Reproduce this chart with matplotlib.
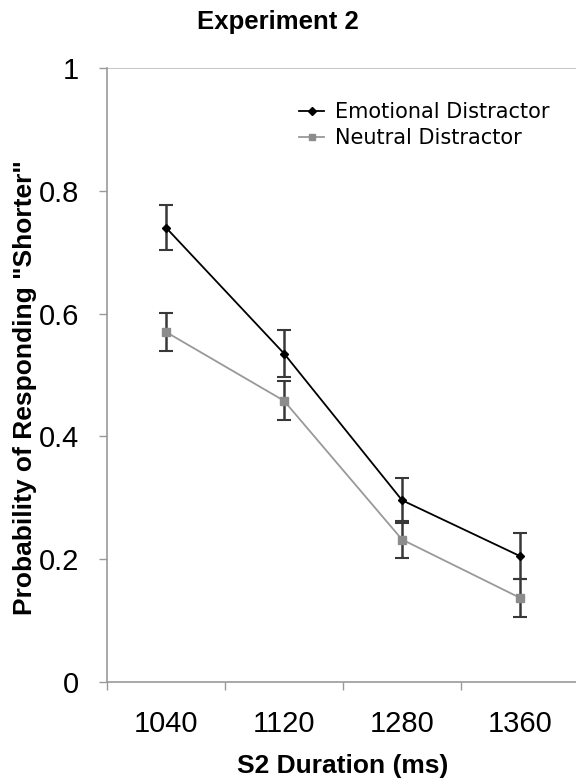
import matplotlib
matplotlib.use('Agg')
import matplotlib.pyplot as plt
from matplotlib.lines import Line2D

# S2 duration conditions
durations = ['1040', '1120', '1280', '1360']

emotional = [0.740, 0.535, 0.296, 0.205]
emotional_err = [0.037, 0.038, 0.037, 0.037]

neutral = [0.570, 0.458, 0.232, 0.137]
neutral_err = [0.031, 0.032, 0.030, 0.031]

fig = plt.figure(figsize=(5.76, 7.81), dpi=100)
ax = fig.add_axes([0.1858, 0.1268, 0.8195, 0.7861])

x = list(range(len(durations)))

ax.errorbar(x, neutral, yerr=neutral_err, color='#999999', marker='s', markersize=6,
            markerfacecolor='#8c8c8c', markeredgecolor='#8c8c8c', linewidth=1.3,
            ecolor='#383838', elinewidth=1.8, capsize=5, capthick=1.5, zorder=2)
ax.errorbar(x, emotional, yerr=emotional_err, color='black', marker='D', markersize=4.5,
            linewidth=1.3, ecolor='#383838', elinewidth=1.8, capsize=5, capthick=1.5,
            zorder=3)

ax.set_xlim(-0.5, 3.5)
ax.set_ylim(0, 1)
ax.set_yticks([0, 0.2, 0.4, 0.6, 0.8, 1.0])
ax.set_yticklabels(['0', '0.2', '0.4', '0.6', '0.8', '1'])
ax.set_xticks(x)
ax.set_xticklabels(durations)
ax.set_xticks([-0.5, 0.5, 1.5, 2.5], minor=True)
ax.tick_params(axis='x', which='major', length=0, pad=20)
ax.tick_params(axis='x', which='minor', length=6, color='#999999', width=1)
ax.tick_params(axis='y', length=6, color='#999999', width=1, pad=14)
for lab in ax.get_xticklabels() + ax.get_yticklabels():
    lab.set_fontfamily('Liberation Sans')
    lab.set_fontsize(21)

ax.axhline(1.0, color='#bbbbbb', linewidth=1.2, zorder=0)
ax.spines['top'].set_visible(False)
ax.spines['right'].set_visible(False)
ax.spines['left'].set_color('#999999')
ax.spines['bottom'].set_color('#999999')
ax.spines['left'].set_linewidth(1.2)
ax.spines['bottom'].set_linewidth(1.2)

handles = [
    Line2D([], [], color='black', marker='D', markersize=4, linewidth=1.3),
    Line2D([], [], color='#999999', marker='s', markersize=5, markerfacecolor='#8c8c8c',
           markeredgecolor='#8c8c8c', linewidth=1.3),
]
labels = ['Emotional Distractor', 'Neutral Distractor']
ax.legend(handles, labels, loc='upper left', bbox_to_anchor=(0.39, 0.958),
          frameon=False, fontsize=15, handlelength=1.2, handletextpad=0.5,
          labelspacing=0.3, borderaxespad=0)

ax.set_ylabel('Probability of Responding "Shorter"', fontfamily='Liberation Sans',
              fontweight='bold', fontsize=19)
ax.yaxis.set_label_coords(-0.148, 0.48)
ax.set_xlabel('S2 Duration (ms)', fontfamily='Liberation Sans', fontweight='bold',
              fontsize=19, labelpad=12)
fig.text(0.483, 0.963, 'Experiment 2', ha='center', va='baseline',
         fontfamily='Liberation Sans', fontweight='bold', fontsize=18.5)

fig.savefig('out.png', dpi=100)
